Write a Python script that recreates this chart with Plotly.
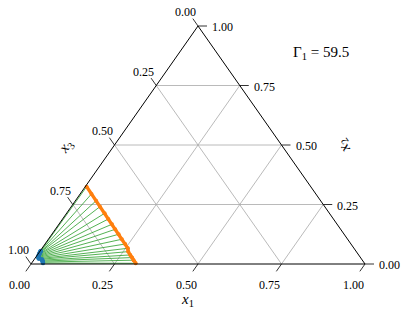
import math
import plotly.graph_objects as go

# ---------------- data (ternary fractions x1, x2, x3) ----------------
# phase 1 (orange) – tie-line ends on the x3 ~ 0.68 branch
phase1_x1 = [0.004, 0.034, 0.062, 0.086, 0.114, 0.137, 0.159, 0.179, 0.200,
             0.220, 0.240, 0.257, 0.265, 0.278, 0.289, 0.299, 0.312]
phase1_x2 = [0.325, 0.294, 0.266, 0.241, 0.213, 0.189, 0.167, 0.146, 0.125,
             0.104, 0.084, 0.066, 0.052, 0.038, 0.027, 0.016, 0.003]
phase1_x3 = [0.671, 0.672, 0.672, 0.673, 0.673, 0.674, 0.674, 0.675, 0.675,
             0.676, 0.676, 0.677, 0.683, 0.684, 0.684, 0.685, 0.685]
# phase 2 (blue) – tie-line ends near the x3 = 1 corner
phase2_x1 = [0.002, 0.002, 0.003, 0.003, 0.004, 0.004, 0.005, 0.006, 0.007,
             0.008, 0.010, 0.013, 0.022, 0.026, 0.029, 0.031, 0.034]
phase2_x2 = [0.055, 0.052, 0.049, 0.046, 0.043, 0.040, 0.037, 0.034, 0.031,
             0.028, 0.025, 0.022, 0.020, 0.016, 0.012, 0.008, 0.004]
phase2_x3 = [0.943, 0.946, 0.948, 0.951, 0.953, 0.956, 0.958, 0.960, 0.962,
             0.964, 0.965, 0.965, 0.958, 0.958, 0.959, 0.961, 0.962]

tick_values = [0.0, 0.25, 0.5, 0.75, 1.0]
tick_labels = ["0.00", "0.25", "0.50", "0.75", "1.00"]
grid_values = [0.25, 0.5, 0.75]
gamma_text = "Γ<sub>1</sub> = 59.5"

# ---------------- layout geometry ----------------
W, H = 407, 317
XR = [-0.09281, 1.12575]
YR = [-0.22269, 1.10924]
SX = W / (XR[1] - XR[0])   # px per data unit
SY = H / (YR[1] - YR[0])

FONT = "Liberation Serif"
TICK_FONT = dict(family=FONT, size=12, color="black")


def proj(x1, x2):
    """ternary (x1, x2[, x3]) -> cartesian of the triangle"""
    return x1 + 0.5 * x2, x2


def dpx(dx_px, dy_px):
    """pixel offset (screen, y down) -> data offset"""
    return dx_px / SX, -dy_px / SY


ex, ey = 0.5 * SX, 1.0 * SY           # left edge vector in px
n = math.hypot(ex, ey)
ux, uy = ex / n, ey / n

fig = go.Figure()

# grid
gx, gy = [], []
for v in grid_values:
    for a, b in [((v, 0), (v, 1 - v)),            # const x1
                 ((0, v), (1 - v, v)),            # const x2
                 ((0, 1 - v), (1 - v, 0))]:       # const x3
        p, q = proj(*a), proj(*b)
        gx += [p[0], q[0], None]
        gy += [p[1], q[1], None]
fig.add_trace(go.Scatter(x=gx, y=gy, mode="lines",
                         line=dict(color="#a8a8a8", width=0.8),
                         hoverinfo="skip", showlegend=False))

# tie lines
tx, ty = [], []
for a1, a2, b1, b2 in zip(phase2_x1, phase2_x2, phase1_x1, phase1_x2):
    p, q = proj(a1, a2), proj(b1, b2)
    tx += [p[0], q[0], None]
    ty += [p[1], q[1], None]
fig.add_trace(go.Scatter(x=tx, y=ty, mode="lines",
                         line=dict(color="#2ca02c", width=0.9),
                         opacity=0.9, hoverinfo="skip", showlegend=False))

# phases
p1 = [proj(a, b) for a, b in zip(phase1_x1, phase1_x2)]
fig.add_trace(go.Scatter(x=[p[0] for p in p1], y=[p[1] for p in p1],
                         mode="lines+markers",
                         line=dict(color="#ff7f0e", width=3.4),
                         marker=dict(color="#ff7f0e", size=4),
                         customdata=list(zip(phase1_x1, phase1_x2, phase1_x3)),
                         showlegend=False))
p2 = [proj(a, b) for a, b in zip(phase2_x1, phase2_x2)]
fig.add_trace(go.Scatter(x=[p[0] for p in p2], y=[p[1] for p in p2],
                         mode="lines+markers",
                         line=dict(color="#1f77b4", width=2),
                         marker=dict(color="#1f77b4", size=4.5),
                         customdata=list(zip(phase2_x1, phase2_x2, phase2_x3)),
                         showlegend=False))

# triangle frame
corners = [(0, 0), (1, 0), (0, 1), (0, 0)]
fx = [proj(*c)[0] for c in corners]
fy = [proj(*c)[1] for c in corners]
fig.add_trace(go.Scatter(x=fx, y=fy, mode="lines",
                         line=dict(color="black", width=1),
                         hoverinfo="skip", showlegend=False))

# ticks
L = 9
kx, ky = [], []
ann = []
for v, lab in zip(tick_values, tick_labels):
    # bottom: x1 axis, ticks down-left
    bx, by = proj(v, 0)
    dx, dy = dpx(-ux * L, uy * L)
    kx += [bx, bx + dx, None]; ky += [by, by + dy, None]
    ann.append(dict(x=bx, y=by, text=lab, xshift=-12, yshift=-21,
                    xanchor="center", yanchor="middle"))
    # right: x2 axis, ticks to the right
    rx, ry = proj(1 - v, v)
    dx, dy = dpx(L, 0)
    kx += [rx, rx + dx, None]; ky += [ry, ry + dy, None]
    ann.append(dict(x=rx, y=ry, text=lab, xshift=12, yshift=-1,
                    xanchor="left", yanchor="middle"))
    # left: x3 axis, ticks up-left
    lx, ly = proj(0, 1 - v)
    dx, dy = dpx(-ux * L, -uy * L)
    kx += [lx, lx + dx, None]; ky += [ly, ly + dy, None]
    ann.append(dict(x=lx, y=ly, text=lab, xshift=-12.5, yshift=14,
                    xanchor="center", yanchor="middle"))
fig.add_trace(go.Scatter(x=kx, y=ky, mode="lines",
                         line=dict(color="black", width=0.8),
                         hoverinfo="skip", showlegend=False))

for a in ann:
    a.update(xref="x", yref="y", showarrow=False, font=TICK_FONT)

# axis titles
mid_b = proj(0.5, 0)
mid_l = proj(0, 0.5)
mid_r = proj(0.5, 0.5)
TF = dict(family=FONT, size=15, color="black")
ann += [
    dict(x=mid_b[0], y=mid_b[1], xref="x", yref="y", text="<i>x</i><sub>1</sub>",
         xshift=-11, yshift=-36, showarrow=False, font=TF,
         xanchor="center", yanchor="middle"),
    dict(x=mid_l[0], y=mid_l[1], xref="x", yref="y", text="<i>x</i><sub>3</sub>",
         xshift=-49, yshift=-1.5, textangle=-55, showarrow=False, font=TF,
         xanchor="center", yanchor="middle"),
    dict(x=mid_r[0], y=mid_r[1], xref="x", yref="y", text="<i>x</i><sub>2</sub>",
         xshift=62, yshift=-1.5, textangle=-125, showarrow=False, font=TF,
         xanchor="center", yanchor="middle"),
    dict(x=321 / W, y=1 - 53 / H, xref="paper", yref="paper", text=gamma_text,
         xanchor="center", yanchor="middle",
         showarrow=False, font=dict(family=FONT, size=15, color="black")),
]

fig.update_layout(
    width=W, height=H,
    margin=dict(l=0, r=0, t=0, b=0),
    paper_bgcolor="white", plot_bgcolor="white",
    xaxis=dict(range=XR, visible=False, fixedrange=True),
    yaxis=dict(range=YR, visible=False, fixedrange=True),
    annotations=ann,
    showlegend=False,
)

fig.write_html("out.html", config={"displayModeBar": False},
               post_script="document.body.style.margin='0px';")
